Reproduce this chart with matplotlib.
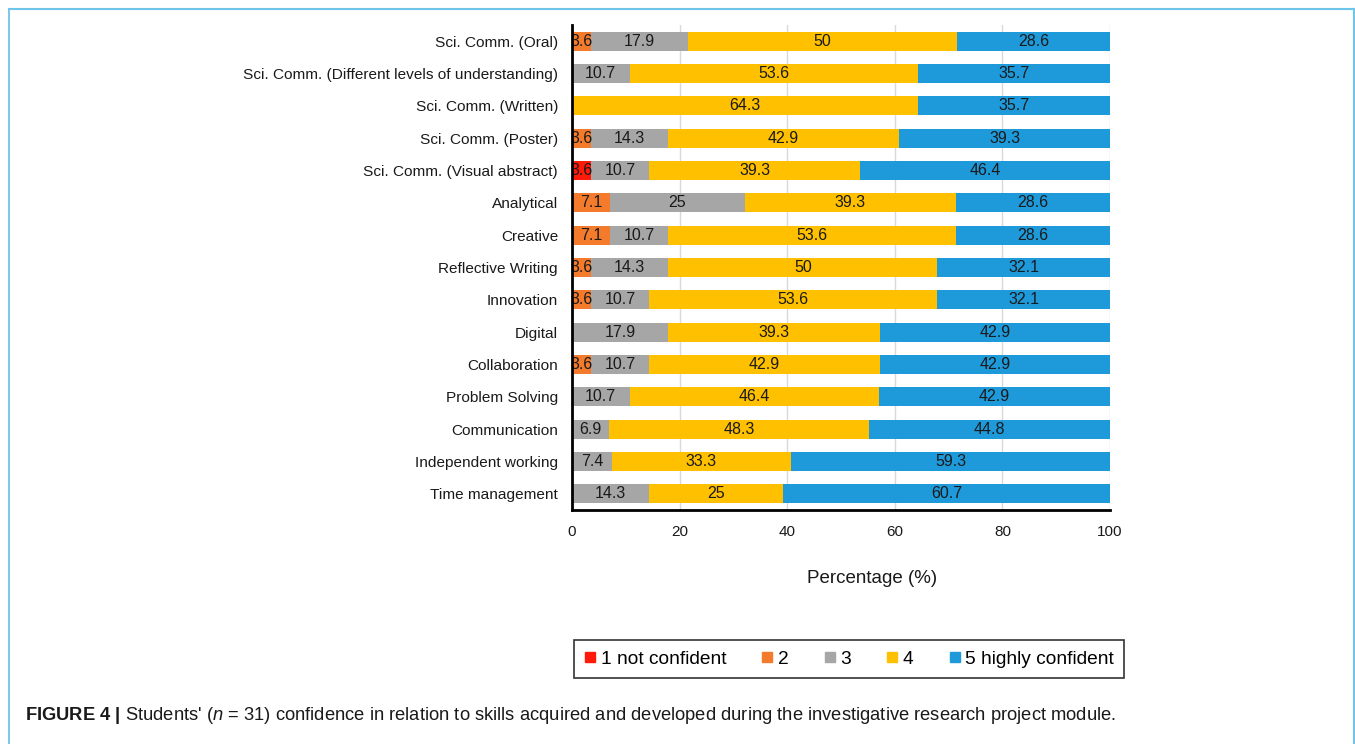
import matplotlib
matplotlib.use("Agg")
import matplotlib.pyplot as plt
from matplotlib.lines import Line2D
import numpy as np

plt.rcParams['font.family'] = ['Liberation Sans', 'DejaVu Sans']
plt.rcParams['mathtext.fontset'] = 'custom'
plt.rcParams['mathtext.rm'] = 'Liberation Sans'
plt.rcParams['mathtext.it'] = 'Liberation Sans:italic'
plt.rcParams['mathtext.bf'] = 'Liberation Sans:bold'

categories = [
    "Sci. Comm. (Oral)",
    "Sci. Comm. (Different levels of understanding)",
    "Sci. Comm. (Written)",
    "Sci. Comm. (Poster)",
    "Sci. Comm. (Visual abstract)",
    "Analytical",
    "Creative",
    "Reflective Writing",
    "Innovation",
    "Digital",
    "Collaboration",
    "Problem Solving",
    "Communication",
    "Independent working",
    "Time management",
]
series_names = ["1 not confident", "2", "3", "4", "5 highly confident"]
s1 = [0, 0, 0, 0, 3.6, 0, 0, 0, 0, 0, 0, 0, 0, 0, 0]
s2 = [3.6, 0, 0, 3.6, 0, 7.1, 7.1, 3.6, 3.6, 0, 3.6, 0, 0, 0, 0]
s3 = [17.9, 10.7, 0, 14.3, 10.7, 25, 10.7, 14.3, 10.7, 17.9, 10.7, 10.7, 6.9, 7.4, 14.3]
s4 = [50, 53.6, 64.3, 42.9, 39.3, 39.3, 53.6, 50, 53.6, 39.3, 42.9, 46.4, 48.3, 33.3, 25]
s5 = [28.6, 35.7, 35.7, 39.3, 46.4, 28.6, 28.6, 32.1, 32.1, 42.9, 42.9, 42.9, 44.8, 59.3, 60.7]
colors = ["#FF1A0A", "#F47B2B", "#A6A6A6", "#FFC000", "#1E9ADB"]
xticks = [0, 20, 40, 60, 80, 100]

fig = plt.figure(figsize=(13.55, 7.44), dpi=100)
ax = fig.add_axes([0.4221, 0.3145, 0.3971, 0.652])

series = [s1, s2, s3, s4, s5]
y = np.arange(len(categories))
left = np.zeros(len(categories))
handles = []
for vals, col, name in zip(series, colors, series_names):
    vals = np.array(vals, dtype=float)
    ax.barh(y, vals, left=left, height=0.59, color=col, label=name, zorder=3)
    for yi, (l, v) in enumerate(zip(left, vals)):
        if v > 0:
            t = ax.text(l + v / 2, yi, f"{v:g}", ha="center", va="center",
                        fontsize=11.5, color="#1a1a1a", zorder=4)
            t.set_clip_on(True)
    left = left + vals
    handles.append(Line2D([], [], marker="s", linestyle="none", markersize=6.5,
                          markerfacecolor=col, markeredgecolor=col, label=name))

ax.set_xlim(0, 100)
ax.set_ylim(len(categories) - 0.5, -0.5)
ax.set_yticks(y)
ax.set_yticklabels(categories, fontsize=11.1, color="#1a1a1a")
ax.set_xticks(xticks)
ax.set_xticklabels([str(v) for v in xticks], fontsize=11, color="#1a1a1a")
ax.tick_params(axis="both", length=0)
ax.tick_params(axis="y", pad=10)
ax.tick_params(axis="x", pad=11)
ax.grid(axis="x", color="#D9D9D9", linewidth=1, zorder=0)
for s in ["top", "right"]:
    ax.spines[s].set_visible(False)
for s in ["left", "bottom"]:
    ax.spines[s].set_linewidth(2)
    ax.spines[s].set_color("black")
    ax.spines[s].set_zorder(5)

ax.set_xlabel("Percentage (%)", fontsize=13.5, color="#1a1a1a")
ax.xaxis.set_label_coords(0.558, -0.124)

leg = fig.legend(handles=handles, loc="center", bbox_to_anchor=(0.6266, 0.1142),
                 ncol=5, fontsize=13.8, frameon=True, fancybox=False,
                 handlelength=0.6, handletextpad=0.25, columnspacing=1.85,
                 borderpad=0.55)
leg.get_frame().set_edgecolor("black")
leg.get_frame().set_linewidth(1.2)

fig.text(25 / 1355, 1 - 716 / 744,
         r"$\mathbf{FIGURE\ 4\ |}$ Students' ($\mathit{n}$ = 31) confidence in relation to skills acquired and developed during the investigative research project module.",
         fontsize=13.2, ha="left", va="center", color="#1a1a1a")

bc = "#6EC4E9"
fig.add_artist(Line2D([9 / 1355, 9 / 1355], [0, 1 - 8.5 / 744], transform=fig.transFigure, color=bc, lw=1.3))
fig.add_artist(Line2D([9 / 1355, 1353.5 / 1355], [1 - 8.5 / 744, 1 - 8.5 / 744], transform=fig.transFigure, color=bc, lw=1.5))
fig.add_artist(Line2D([1353.5 / 1355, 1353.5 / 1355], [0, 1 - 8.5 / 744], transform=fig.transFigure, color=bc, lw=1.5))

fig.savefig("out.png", dpi=100, facecolor="white")
